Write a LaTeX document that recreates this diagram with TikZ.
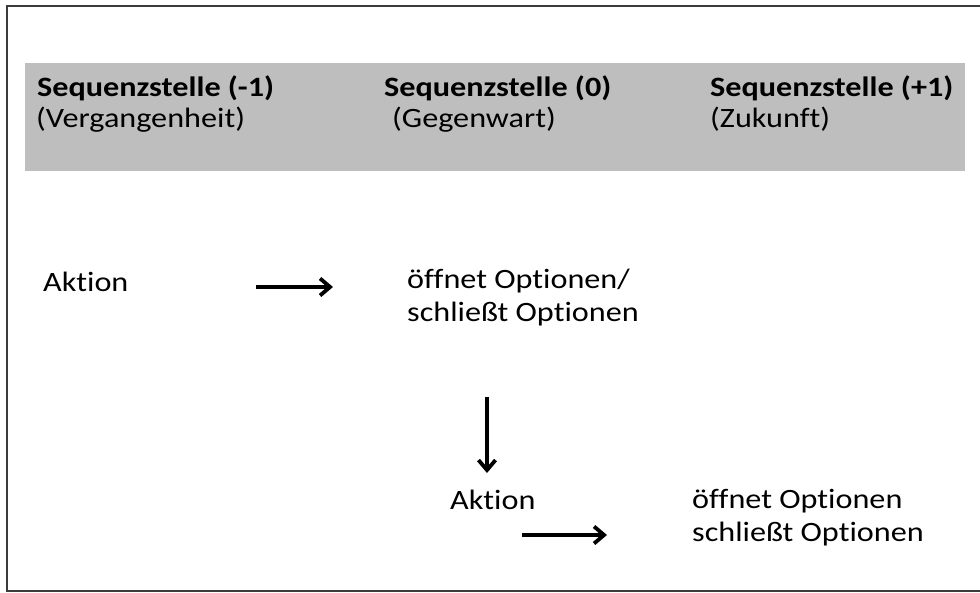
\documentclass[tikz,border=0pt]{standalone}
\usepackage{fontspec}
\setmainfont[FakeStretch=1.15, Ligatures={NoCommon}]{Carlito}
\usetikzlibrary{arrows.meta}
\definecolor{bandgray}{RGB}{190,190,190}
\definecolor{framegray}{RGB}{60,60,60}
\begin{document}
\begin{tikzpicture}[x=1pt,y=-1pt,
  txt/.style={anchor=base west, inner sep=0pt, font=\fontsize{28}{33}\selectfont},
  hdr/.style={txt, font=\fontsize{28}{33}\selectfont\bfseries},
  arr/.style={line width=3.8pt, -{Straight Barb[length=10pt,width=17pt]}}]
\useasboundingbox (0,0) rectangle (980,593);
% frame
\draw[line width=1.6pt, framegray] (995,6) -- (7,6) -- (7,591) -- (995,591);
% header band
\fill[bandgray] (25,63) rectangle (965,171);
% headers
\node[hdr] (h1a) at (37,97) {Sequenzstelle (-1)};
\node[txt] (h1b) at (36,128) {(Vergangenheit)};
\node[hdr] (h2a) at (384,97) {Sequenzstelle (0)};
\node[txt] (h2b) at (392,128) {(Gegenwart)};
\node[hdr] (h3a) at (710,97) {Sequenzstelle (+1)};
\node[txt] (h3b) at (710,128) {(Zukunft)};
% body
\node[txt] (a1) at (43,292) {Aktion};
\node[txt] (o1a) at (407,289) {öffnet Optionen/};
\node[txt] (o1b) at (407,322) {schließt Optionen};
\node[txt] (a2) at (450,509) {Aktion};
\node[txt] (o2a) at (692,508) {öffnet Optionen};
\node[txt] (o2b) at (692,541) {schließt Optionen};
% arrows
\coordinate (r1s) at (256,287);
\coordinate (r1e) at (333,287);
\coordinate (r2s) at (487,397);
\coordinate (r2e) at (487,473);
\coordinate (r3s) at (522,535);
\coordinate (r3e) at (607,535);
\draw[arr] (r1s) -- (r1e);
\draw[arr] (r2s) -- (r2e);
\draw[arr] (r3s) -- (r3e);
\end{tikzpicture}
\end{document}
